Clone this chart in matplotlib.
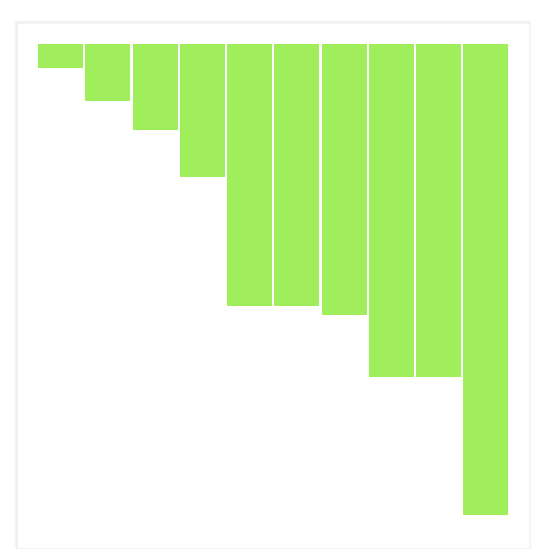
import numpy as np
import matplotlib
matplotlib.use("Agg")
import matplotlib.pyplot as plt
from matplotlib.patches import Rectangle

# bar lengths (bars hang down from the top)
categories = ["A", "B", "C", "D", "E", "F", "G", "H", "I", "J"]
values = [24, 57, 86, 133, 262, 262, 271, 333, 333, 471]

W, H = 550, 549
fig = plt.figure(figsize=(W / 100, H / 100), dpi=100)
fig.patch.set_facecolor("white")

# card with a soft shadow
x0, y0, x1, y1 = 17, 23, 529, 548
for i, a in enumerate([0.015, 0.02, 0.03]):
    d = 3 - i
    fig.patches.append(Rectangle(((x0 - d) / W, 1 - (y1 + d) / H),
                                 (x1 - x0 + 2 * d) / W, (y1 - y0 + 2 * d) / H,
                                 transform=fig.transFigure, facecolor="black",
                                 alpha=a, edgecolor="none", zorder=0))
fig.patches.append(Rectangle((x0 / W, 1 - y1 / H), (x1 - x0) / W, (y1 - y0) / H,
                             transform=fig.transFigure, facecolor="white",
                             edgecolor="#f2f2f2", linewidth=0.5, zorder=1))

ax_l, ax_r, ax_t, ax_b = 37, 509.5, 44, 515
ax = fig.add_axes([ax_l / W, 1 - ax_b / H, (ax_r - ax_l) / W, (ax_b - ax_t) / H])
ax.set_zorder(5)
ax.set_facecolor("none")
x = np.arange(len(categories))
ax.bar(x, values, width=0.955, color="#a0ee5c", edgecolor="none")
ax.set_xlim(-0.5, len(categories) - 0.5)
ax.set_ylim(max(values), 0)
ax.axis("off")

fig.savefig("out.png", dpi=100, facecolor="white")
